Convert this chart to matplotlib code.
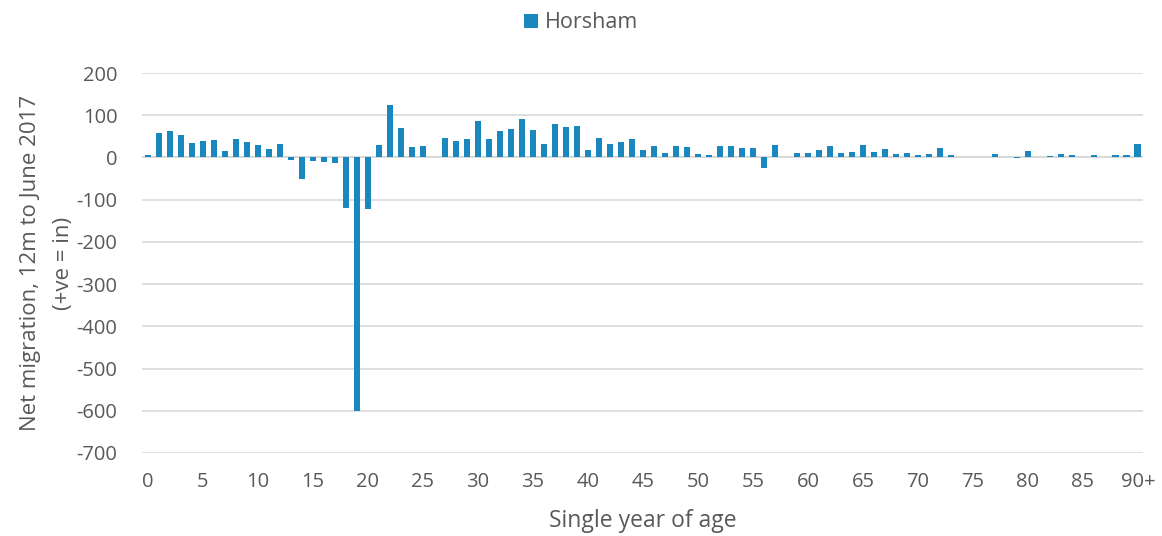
import matplotlib.pyplot as plt
import numpy as np

ages = list(range(91))
tick_labels = [str(a) for a in range(0, 90, 5)] + ['90+']
net_migration = [
    5, 59, 63, 54, 34, 40, 41, 15, 44, 36,
    30, 20, 33, -5, -50, -8, -10, -14, -120, -600,
    -121, 29, 125, 69, 24, 27, 0, 45, 40, 43,
    87, 43, 63, 67, 92, 65, 31, 79, 73, 75,
    17, 45, 33, 36, 44, 18, 26, 11, 27, 25,
    9, 5, 27, 27, 22, 22, -25, 29, 1, 10,
    11, 17, 27, 11, 13, 29, 13, 20, 7, 11,
    5, 9, 22, 6, 2, 1, 2, 7, 0, -2,
    15, 0, 3, 7, 5, 1, 6, 1, 6, 6,
    33,
]

text_color = '#595959'
plt.rcParams['font.family'] = ['Open Sans', 'DejaVu Sans']
plt.rcParams['axes.unicode_minus'] = False

fig = plt.figure(figsize=(11.62, 5.36), dpi=100)
ax = fig.add_axes([0.1226, 0.1549, 0.8614, 0.7089])

ax.bar(ages, net_migration, width=0.62, color='#1b87bf', label='Horsham', zorder=3)

ax.set_xlim(-0.5, 90.5)
ax.set_ylim(-700, 200)
ax.set_yticks(np.arange(-700, 201, 100))
ax.grid(axis='y', color='#d9d9d9', linewidth=1.2, zorder=0)
ax.axhline(0, color='#d9d9d9', linewidth=1.5, zorder=2)

ax.set_xticks(list(range(0, 91, 5)))
ax.set_xticklabels(tick_labels)
ax.tick_params(axis='both', length=0, labelsize=14.5, colors=text_color)
ax.tick_params(axis='x', pad=14)
ax.tick_params(axis='y', pad=18)

for s in ax.spines.values():
    s.set_visible(False)

ax.set_xlabel('Single year of age', fontsize=16.5, color=text_color, labelpad=12)
ax.set_ylabel('Net migration, 12m to June 2017\n(+ve = in)', fontsize=16,
              color=text_color, labelpad=2, linespacing=1.75)

leg = fig.legend(loc='upper center', bbox_to_anchor=(0.5, 1.013), frameon=False,
                 fontsize=15.5, handlelength=0.65, handleheight=0.65, handletextpad=0.3)
for t in leg.get_texts():
    t.set_color(text_color)

fig.savefig('out.png', dpi=100)
